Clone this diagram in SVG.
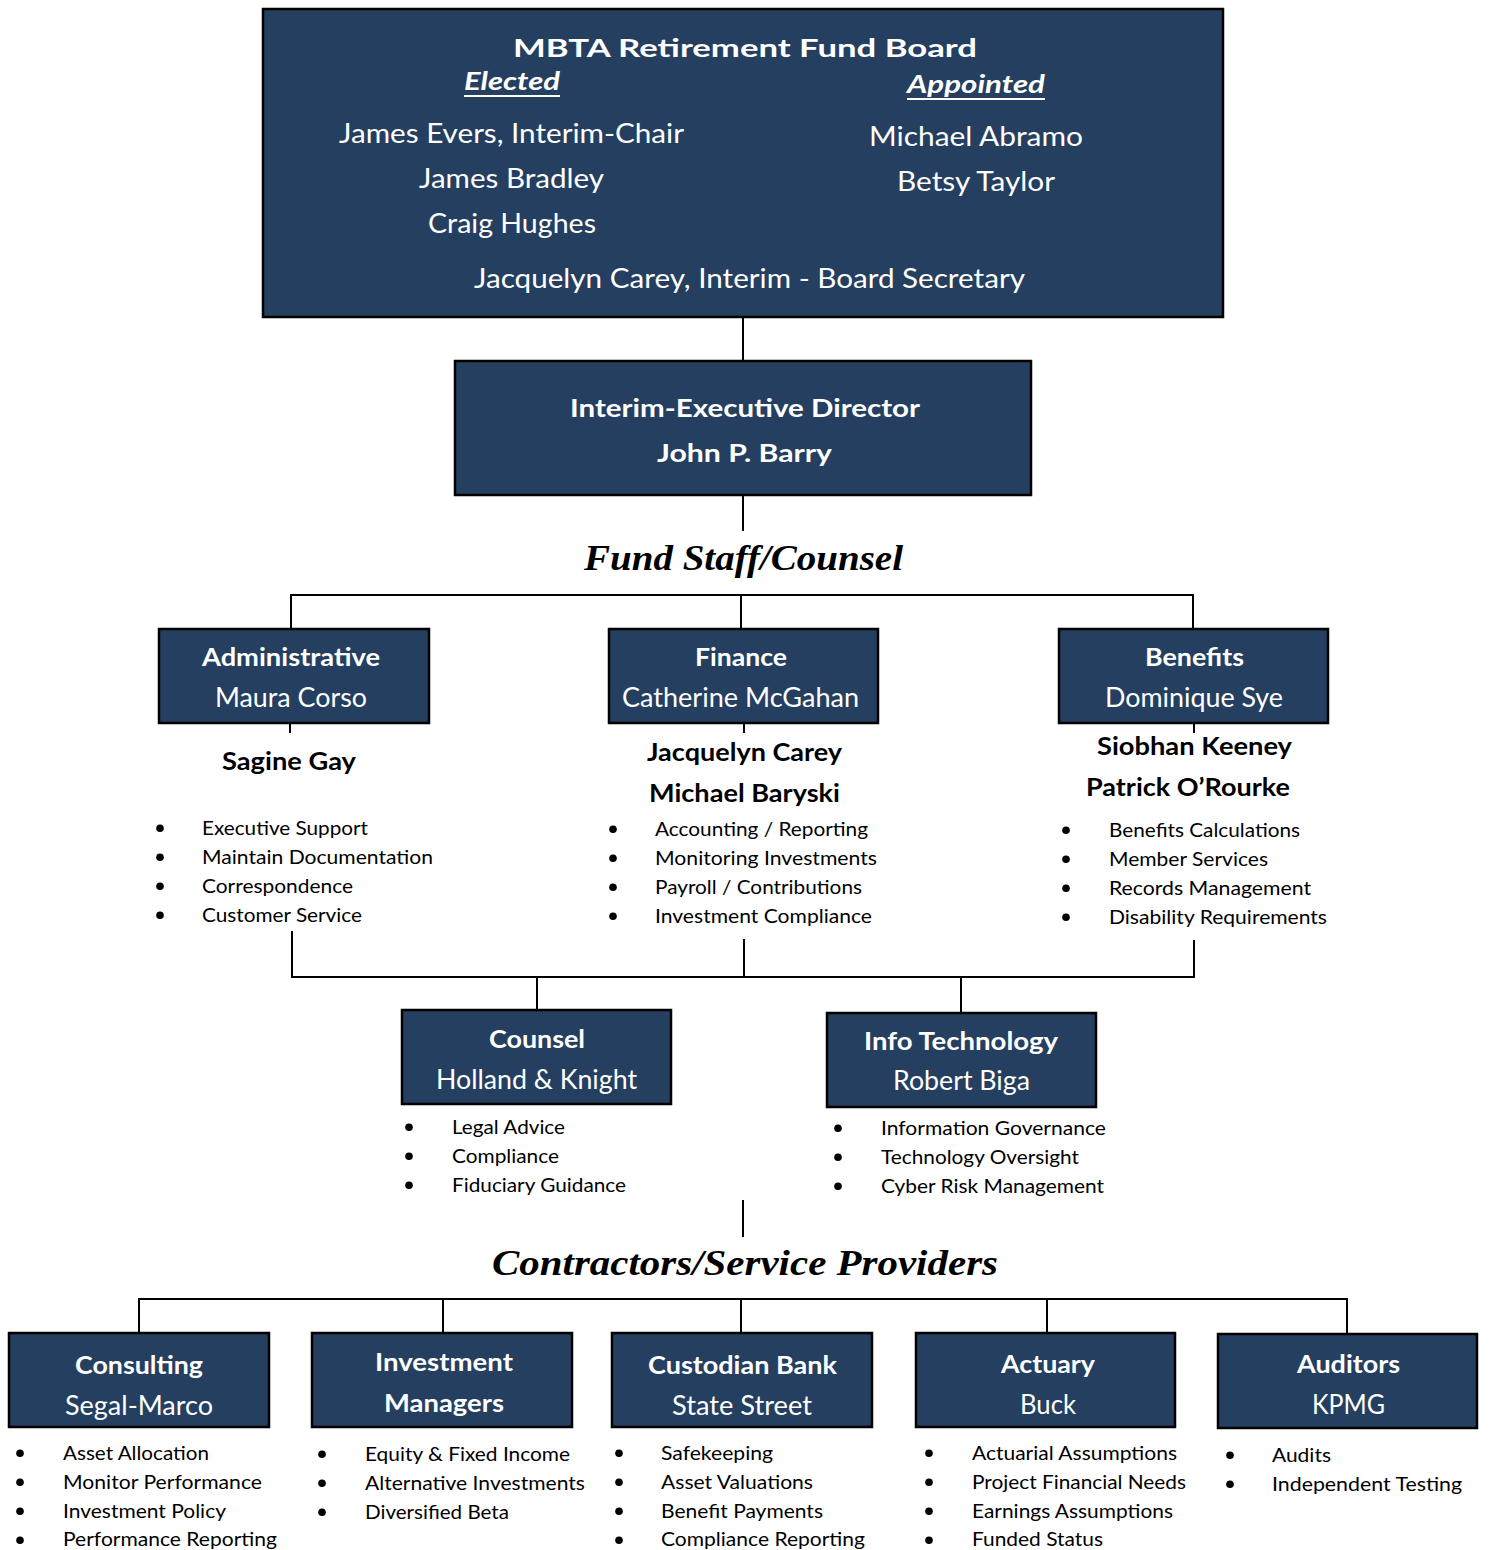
<svg xmlns="http://www.w3.org/2000/svg" width="1491" height="1550" viewBox="0 0 1491 1550">
<style>
.box{fill:#243F60;stroke:#000;stroke-width:2.5}
.con{stroke:#000;stroke-width:2;fill:none}
.hb{font-family:Lato,"Liberation Sans",sans-serif;font-weight:bold;font-size:25px;fill:#fff;text-anchor:middle}
.hr{font-family:Lato,"Liberation Sans",sans-serif;font-size:26px;fill:#fff;text-anchor:middle}
.nb{font-family:Lato,"Liberation Sans",sans-serif;font-weight:bold;font-size:24px;fill:#000;text-anchor:middle}
.bl{font-family:Lato,"Liberation Sans",sans-serif;font-size:20px;fill:#000}
.sec{font-family:"Liberation Serif",serif;font-weight:bold;font-style:italic;font-size:36px;fill:#000;text-anchor:middle}
.ul{stroke:#fff;stroke-width:2}
</style>
<defs><circle id="dot" r="3.8" fill="#000"/></defs>
<rect width="1491" height="1550" fill="#fff"/>

<g id="connectors">
<line class="con" x1="743" y1="317" x2="743" y2="361"/>
<line class="con" x1="743" y1="495" x2="743" y2="531"/>
<polyline class="con" points="291,629 291,595 1193,595 1193,629"/>
<line class="con" x1="741" y1="595" x2="741" y2="629"/>
<line class="con" x1="290" y1="723" x2="290" y2="733"/>
<line class="con" x1="744" y1="723" x2="744" y2="733"/>
<line class="con" x1="1194" y1="723" x2="1194" y2="733"/>
<polyline class="con" points="292,931 292,977 1194,977 1194,940"/>
<line class="con" x1="744" y1="939" x2="744" y2="977"/>
<line class="con" x1="537" y1="977" x2="537" y2="1010"/>
<line class="con" x1="961" y1="977" x2="961" y2="1013"/>
<line class="con" x1="743" y1="1200" x2="743" y2="1237"/>
<polyline class="con" points="139,1333 139,1299 1347,1299 1347,1333"/>
<line class="con" x1="443" y1="1299" x2="443" y2="1333"/>
<line class="con" x1="741" y1="1299" x2="741" y2="1333"/>
<line class="con" x1="1047" y1="1299" x2="1047" y2="1333"/>
</g>

<g id="board">
<rect class="box" x="263" y="9" width="960" height="308"/>
<text class="hb" x="745" y="57" font-size="33" textLength="464" lengthAdjust="spacingAndGlyphs">MBTA Retirement Fund Board</text>
<text class="hb" x="512" y="90" font-size="28" font-style="italic" textLength="96" lengthAdjust="spacingAndGlyphs">Elected</text>
<line class="ul" x1="464" y1="96" x2="560" y2="96"/>
<text class="hb" x="976" y="93" font-size="28" font-style="italic" textLength="138" lengthAdjust="spacingAndGlyphs">Appointed</text>
<line class="ul" x1="907" y1="99" x2="1045" y2="99"/>
<text class="hr" x="511.5" y="143" textLength="345" lengthAdjust="spacingAndGlyphs">James Evers, Interim-Chair</text>
<text class="hr" x="511.5" y="188" textLength="185" lengthAdjust="spacingAndGlyphs">James Bradley</text>
<text class="hr" x="512" y="233" textLength="168" lengthAdjust="spacingAndGlyphs">Craig Hughes</text>
<text class="hr" x="976" y="146" textLength="214" lengthAdjust="spacingAndGlyphs">Michael Abramo</text>
<text class="hr" x="976" y="191" textLength="158" lengthAdjust="spacingAndGlyphs">Betsy Taylor</text>
<text class="hr" x="749.5" y="288" textLength="551" lengthAdjust="spacingAndGlyphs">Jacquelyn Carey, Interim - Board Secretary</text>
</g>

<g id="exec">
<rect class="box" x="455" y="361" width="576" height="134"/>
<text class="hb" x="745" y="417" textLength="350" lengthAdjust="spacingAndGlyphs">Interim-Executive Director</text>
<text class="hb" x="744.5" y="462" textLength="175" lengthAdjust="spacingAndGlyphs">John P. Barry</text>
</g>

<text id="fund-staff" class="sec" x="743.5" y="570" textLength="319" lengthAdjust="spacingAndGlyphs">Fund Staff/Counsel</text>

<g id="administrative">
<rect class="box" x="159" y="629" width="270" height="94"/>
<text class="hb" x="291" y="666" textLength="178" lengthAdjust="spacingAndGlyphs">Administrative</text>
<text class="hr" x="291" y="707" textLength="152" lengthAdjust="spacingAndGlyphs">Maura Corso</text>
<text class="nb" x="289" y="770" textLength="134" lengthAdjust="spacingAndGlyphs">Sagine Gay</text>
<use href="#dot" x="160" y="828.3"/><text class="bl" x="202" y="835" textLength="166" lengthAdjust="spacingAndGlyphs">Executive Support</text>
<use href="#dot" x="160" y="857.3"/><text class="bl" x="202" y="864" textLength="231" lengthAdjust="spacingAndGlyphs">Maintain Documentation</text>
<use href="#dot" x="160" y="886.3"/><text class="bl" x="202" y="893" textLength="151" lengthAdjust="spacingAndGlyphs">Correspondence</text>
<use href="#dot" x="160" y="915.3"/><text class="bl" x="202" y="922" textLength="160" lengthAdjust="spacingAndGlyphs">Customer Service</text>
</g>

<g id="finance">
<rect class="box" x="609" y="629" width="269" height="94"/>
<text class="hb" x="741" y="666" textLength="92" lengthAdjust="spacingAndGlyphs">Finance</text>
<text class="hr" x="740.5" y="707" textLength="237" lengthAdjust="spacingAndGlyphs">Catherine McGahan</text>
<text class="nb" x="744.5" y="761" textLength="195" lengthAdjust="spacingAndGlyphs">Jacquelyn Carey</text>
<text class="nb" x="744.5" y="802" textLength="191" lengthAdjust="spacingAndGlyphs">Michael Baryski</text>
<use href="#dot" x="613" y="829.3"/><text class="bl" x="655" y="836" textLength="213" lengthAdjust="spacingAndGlyphs">Accounting / Reporting</text>
<use href="#dot" x="613" y="858.3"/><text class="bl" x="655" y="865" textLength="222" lengthAdjust="spacingAndGlyphs">Monitoring Investments</text>
<use href="#dot" x="613" y="887.3"/><text class="bl" x="655" y="894" textLength="207" lengthAdjust="spacingAndGlyphs">Payroll / Contributions</text>
<use href="#dot" x="613" y="916.3"/><text class="bl" x="655" y="923" textLength="217" lengthAdjust="spacingAndGlyphs">Investment Compliance</text>
</g>

<g id="benefits">
<rect class="box" x="1059" y="629" width="269" height="94"/>
<text class="hb" x="1194.5" y="666" textLength="99" lengthAdjust="spacingAndGlyphs">Benefits</text>
<text class="hr" x="1194" y="707" textLength="178" lengthAdjust="spacingAndGlyphs">Dominique Sye</text>
<text class="nb" x="1194.5" y="755" textLength="195" lengthAdjust="spacingAndGlyphs">Siobhan Keeney</text>
<text class="nb" x="1188" y="796" textLength="204" lengthAdjust="spacingAndGlyphs">Patrick O’Rourke</text>
<use href="#dot" x="1066" y="830.3"/><text class="bl" x="1109" y="837" textLength="191" lengthAdjust="spacingAndGlyphs">Benefits Calculations</text>
<use href="#dot" x="1066" y="859.3"/><text class="bl" x="1109" y="866" textLength="159" lengthAdjust="spacingAndGlyphs">Member Services</text>
<use href="#dot" x="1066" y="888.3"/><text class="bl" x="1109" y="895" textLength="202" lengthAdjust="spacingAndGlyphs">Records Management</text>
<use href="#dot" x="1066" y="917.3"/><text class="bl" x="1109" y="924" textLength="218" lengthAdjust="spacingAndGlyphs">Disability Requirements</text>
</g>

<g id="counsel">
<rect class="box" x="402" y="1010" width="269" height="94"/>
<text class="hb" x="537" y="1048" textLength="96" lengthAdjust="spacingAndGlyphs">Counsel</text>
<text class="hr" x="536.5" y="1089" textLength="201" lengthAdjust="spacingAndGlyphs">Holland &amp; Knight</text>
<use href="#dot" x="409" y="1127.3"/><text class="bl" x="452" y="1134" textLength="113" lengthAdjust="spacingAndGlyphs">Legal Advice</text>
<use href="#dot" x="409" y="1156.3"/><text class="bl" x="452" y="1163" textLength="107" lengthAdjust="spacingAndGlyphs">Compliance</text>
<use href="#dot" x="409" y="1185.3"/><text class="bl" x="452" y="1192" textLength="174" lengthAdjust="spacingAndGlyphs">Fiduciary Guidance</text>
</g>

<g id="info-technology">
<rect class="box" x="827" y="1013" width="269" height="94"/>
<text class="hb" x="961" y="1050" textLength="194" lengthAdjust="spacingAndGlyphs">Info Technology</text>
<text class="hr" x="961.5" y="1090" textLength="137" lengthAdjust="spacingAndGlyphs">Robert Biga</text>
<use href="#dot" x="838" y="1128.3"/><text class="bl" x="881" y="1135" textLength="225" lengthAdjust="spacingAndGlyphs">Information Governance</text>
<use href="#dot" x="838" y="1157.3"/><text class="bl" x="881" y="1164" textLength="198" lengthAdjust="spacingAndGlyphs">Technology Oversight</text>
<use href="#dot" x="838" y="1186.3"/><text class="bl" x="881" y="1193" textLength="223" lengthAdjust="spacingAndGlyphs">Cyber Risk Management</text>
</g>

<text id="contractors" class="sec" x="745" y="1275" textLength="506" lengthAdjust="spacingAndGlyphs">Contractors/Service Providers</text>

<g id="consulting">
<rect class="box" x="9" y="1333" width="260" height="94"/>
<text class="hb" x="139" y="1374" textLength="128" lengthAdjust="spacingAndGlyphs">Consulting</text>
<text class="hr" x="139" y="1415" textLength="148" lengthAdjust="spacingAndGlyphs">Segal-Marco</text>
<use href="#dot" x="20" y="1453.3"/><text class="bl" x="63" y="1460" textLength="146" lengthAdjust="spacingAndGlyphs">Asset Allocation</text>
<use href="#dot" x="20" y="1482.3"/><text class="bl" x="63" y="1489" textLength="199" lengthAdjust="spacingAndGlyphs">Monitor Performance</text>
<use href="#dot" x="20" y="1511.3"/><text class="bl" x="63" y="1518" textLength="163" lengthAdjust="spacingAndGlyphs">Investment Policy</text>
<use href="#dot" x="20" y="1540.3"/><text class="bl" x="63" y="1546" textLength="214" lengthAdjust="spacingAndGlyphs">Performance Reporting</text>
</g>

<g id="investment-managers">
<rect class="box" x="312" y="1333" width="260" height="94"/>
<text class="hb" x="444" y="1371" textLength="138" lengthAdjust="spacingAndGlyphs">Investment</text>
<text class="hb" x="444" y="1412" textLength="120" lengthAdjust="spacingAndGlyphs">Managers</text>
<use href="#dot" x="322" y="1454.3"/><text class="bl" x="365" y="1461" textLength="205" lengthAdjust="spacingAndGlyphs">Equity &amp; Fixed Income</text>
<use href="#dot" x="322" y="1483.3"/><text class="bl" x="365" y="1490" textLength="220" lengthAdjust="spacingAndGlyphs">Alternative Investments</text>
<use href="#dot" x="322" y="1512.3"/><text class="bl" x="365" y="1519" textLength="144" lengthAdjust="spacingAndGlyphs">Diversified Beta</text>
</g>

<g id="custodian-bank">
<rect class="box" x="612" y="1333" width="260" height="94"/>
<text class="hb" x="742.5" y="1374" textLength="189" lengthAdjust="spacingAndGlyphs">Custodian Bank</text>
<text class="hr" x="742" y="1415" textLength="140" lengthAdjust="spacingAndGlyphs">State Street</text>
<use href="#dot" x="619" y="1453.3"/><text class="bl" x="661" y="1460" textLength="112" lengthAdjust="spacingAndGlyphs">Safekeeping</text>
<use href="#dot" x="619" y="1482.3"/><text class="bl" x="661" y="1489" textLength="152" lengthAdjust="spacingAndGlyphs">Asset Valuations</text>
<use href="#dot" x="619" y="1511.3"/><text class="bl" x="661" y="1518" textLength="162" lengthAdjust="spacingAndGlyphs">Benefit Payments</text>
<use href="#dot" x="619" y="1540.3"/><text class="bl" x="661" y="1546" textLength="204" lengthAdjust="spacingAndGlyphs">Compliance Reporting</text>
</g>

<g id="actuary">
<rect class="box" x="916" y="1333" width="259" height="94"/>
<text class="hb" x="1048" y="1373" textLength="94" lengthAdjust="spacingAndGlyphs">Actuary</text>
<text class="hr" x="1048" y="1414" textLength="56" lengthAdjust="spacingAndGlyphs">Buck</text>
<use href="#dot" x="929" y="1453.3"/><text class="bl" x="972" y="1460" textLength="205" lengthAdjust="spacingAndGlyphs">Actuarial Assumptions</text>
<use href="#dot" x="929" y="1482.3"/><text class="bl" x="972" y="1489" textLength="214" lengthAdjust="spacingAndGlyphs">Project Financial Needs</text>
<use href="#dot" x="929" y="1511.3"/><text class="bl" x="972" y="1518" textLength="201" lengthAdjust="spacingAndGlyphs">Earnings Assumptions</text>
<use href="#dot" x="929" y="1540.3"/><text class="bl" x="972" y="1546" textLength="131" lengthAdjust="spacingAndGlyphs">Funded Status</text>
</g>

<g id="auditors">
<rect class="box" x="1218" y="1334" width="259" height="94"/>
<text class="hb" x="1348.5" y="1373" textLength="103" lengthAdjust="spacingAndGlyphs">Auditors</text>
<text class="hr" x="1348.5" y="1414" textLength="73" lengthAdjust="spacingAndGlyphs">KPMG</text>
<use href="#dot" x="1230" y="1455.3"/><text class="bl" x="1272" y="1462" textLength="59" lengthAdjust="spacingAndGlyphs">Audits</text>
<use href="#dot" x="1230" y="1484.3"/><text class="bl" x="1272" y="1491" textLength="190" lengthAdjust="spacingAndGlyphs">Independent Testing</text>
</g>
</svg>
